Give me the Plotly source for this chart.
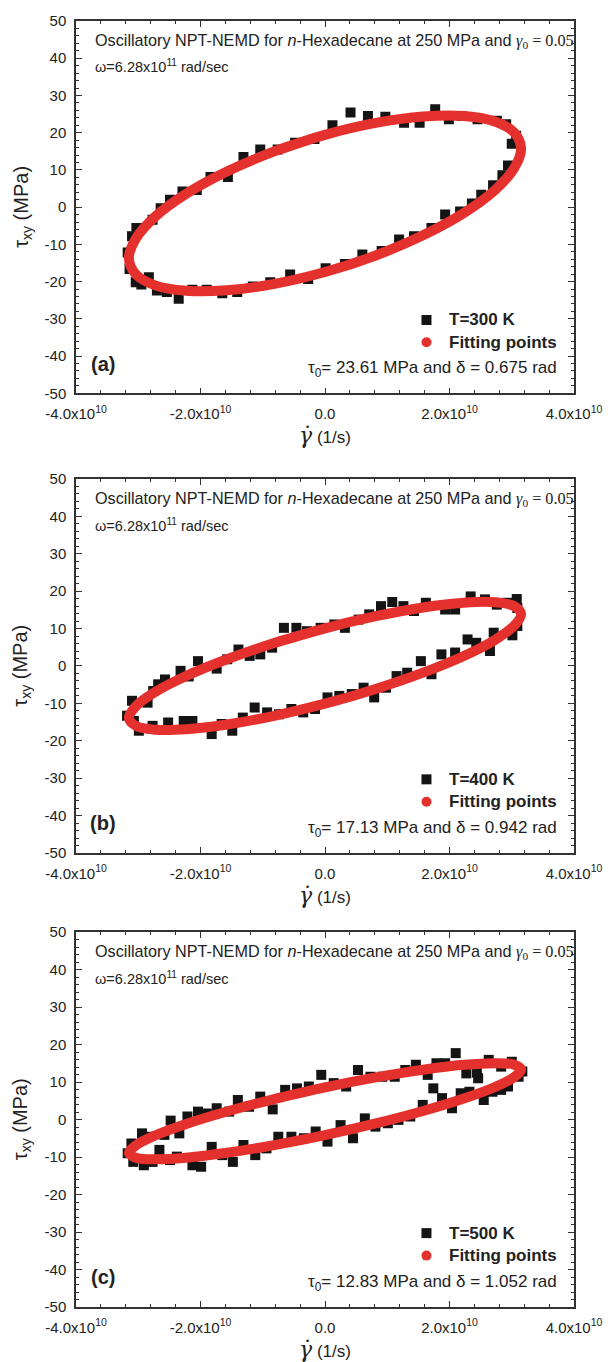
import numpy as np
import plotly.graph_objects as go

# ---------------- data (x in units of 1e10 1/s, y in MPa) ----------------
SCALE = 1e10

# T = 300 K simulation points
x_300 = [-3.03, -3.10, -3.17, -3.14, -3.04, -2.95, -2.83, -2.70, -2.54, -2.35, -2.13, -1.90, -1.65,
         -1.41, -1.16, -0.88, -0.56, -0.27, 0.01, 0.32, 0.60, 0.91, 1.19, 1.43, 1.71, 1.93, 2.17,
         2.36, 2.51, 2.70, 2.85, 2.94, 3.00, 3.07, 2.91, 2.76, 2.45, 2.20, 1.99, 1.77, 1.52, 1.27,
         0.97, 0.69, 0.41, 0.12, -0.17, -0.48, -0.76, -1.04, -1.31, -1.56, -1.84, -2.06, -2.29,
         -2.49, -2.64, -2.77, -2.95]
y_300 = [-5.6, -7.8, -12.2, -16.6, -20.2, -20.8, -18.8, -22.4, -22.8, -24.6, -22.2, -22.2, -23.1,
         -22.8, -21.3, -20.2, -18.1, -19.3, -16.4, -15.3, -12.7, -11.8, -8.7, -7.8, -5.6, -2.0, -1.2,
         1.0, 3.3, 5.9, 8.6, 11.2, 17.0, 19.2, 22.3, 23.2, 23.6, 24.5, 23.6, 26.3, 22.7, 22.7,
         24.3, 24.5, 25.4, 22.0, 18.3, 17.3, 15.5, 15.5, 13.5, 8.1, 8.1, 4.6, 4.2,
         2.0, -0.3, -3.4, -5.6]

# T = 400 K simulation points
x_400 = [-3.10, -2.85, -2.76, -2.68, -2.57, -2.32, -2.19, -2.04, -1.74, -1.57, -1.39, -1.21, -1.04,
         -0.85, -0.66, -0.46, -0.29, -0.07, 0.15, 0.32, 0.54, 0.71, 0.90, 1.08, 1.26, 1.43, 1.62,
         1.93, 2.09, 2.34, 2.57, 2.76, 2.93, 3.08, 3.09, 3.09, 3.01, 2.71, 2.65, 2.43, 2.29, 2.09,
         1.87, 1.71, 1.54, 1.32, 1.15, 0.98, 0.79, 0.62, 0.43, 0.23, 0.04, -0.16, -0.35, -0.54,
         -0.74, -0.93, -1.13, -1.32, -1.49, -1.66, -1.82, -2.13, -2.27, -2.52, -2.77, -2.99, -3.07,
         -3.18]
y_400 = [-9.3, -9.8, -6.7, -4.9, -3.6, -1.3, -2.8, 1.3, -0.7, 1.8, 4.4, 2.7, 3.1,
         4.9, 10.2, 10.2, 9.3, 10.2, 11.1, 10.2, 12.4, 13.8, 16.0, 17.1, 16.0, 14.7, 16.9,
         15.1, 15.1, 18.6, 17.8, 16.4, 16.9, 17.9, 15.5, 10.7, 8.2, 8.9, 4.0, 6.2, 7.1, 3.6,
         3.1, -2.2, 1.3, -1.8, -2.7, -5.8, -8.4, -5.8, -7.5, -8.0, -8.4, -11.5, -12.4, -11.5,
         -12.9, -12.4, -11.1, -13.8, -17.3, -15.5, -18.2, -14.7, -14.7, -15.1, -16.0, -17.3, -14.7,
         -13.3]

# T = 500 K simulation points
x_500 = [-3.17, -3.11, -2.94, -2.84, -2.58, -2.48, -2.34, -2.21, -2.04, -1.90, -1.74, -1.54, -1.40,
         -1.22, -1.04, -0.84, -0.64, -0.45, -0.26, -0.06, 0.14, 0.34, 0.53, 0.73, 0.92, 1.12, 1.29,
         1.46, 1.65, 1.79, 1.93, 2.10, 2.27, 2.44, 2.63, 2.83, 3.00, 3.11, 3.17, 2.94, 2.83, 2.69,
         2.55, 2.46, 2.32, 2.18, 2.04, 1.88, 1.74, 1.57, 1.37, 1.18, 1.01, 0.81, 0.64, 0.45, 0.25,
         0.04, -0.15, -0.34, -0.54, -0.75, -0.94, -1.12, -1.31, -1.48, -1.65, -1.82, -1.99, -2.13,
         -2.38, -2.49, -2.66, -2.77, -2.91, -3.08]
y_500 = [-9.0, -6.4, -3.7, -4.6, -4.1, -0.3, -3.7, 0.8, 2.1, 1.6, 3.0, 2.1, 5.2,
         3.4, 6.1, 2.7, 7.9, 8.3, 8.8, 11.9, 9.7, 8.8, 13.2, 11.4, 11.4, 11.4, 13.2,
         14.6, 11.9, 15.0, 15.0, 17.7, 12.3, 12.5, 15.9, 14.1, 15.4, 11.4, 12.8, 8.8, 7.9, 7.4,
         5.2, 11.0, 7.4, 7.0, 3.0, 5.7, 8.3, 3.9, 0.8, -0.1, -1.0, -1.9, 0.3, -5.0, -1.5,
         -5.9, -3.2, -5.0, -4.6, -4.6, -7.7, -9.5, -6.8, -11.3, -9.5, -7.3, -12.6, -12.2,
         -9.9, -10.8, -8.1, -11.3, -12.2, -11.3]

# fitted ellipse points (read along the red band)
fit_x = [0.0, -0.815, -1.575, -2.23, -2.73, -3.04, -3.15, -3.04, -2.73, -2.23, -1.575, -0.815, 0.0,
         0.815, 1.575, 2.23, 2.73, 3.04, 3.15, 3.04, 2.73, 2.23, 1.575, 0.815, 0.0, -0.815]
fit_y_300 = [19.43, 14.98, 9.58, 3.59, -2.57, -8.49, -13.76, -18.03, -21.0, -22.47, -22.34, -20.62,
             -17.43, -12.98, -7.58, -1.59, 4.57, 10.49, 15.76, 20.03, 23.0, 24.47, 24.34, 22.62,
             19.43, 14.98]
fit_y_400 = [10.07, 6.14, 1.79, -2.68, -6.97, -10.78, -13.86, -15.99, -17.04, -16.92, -15.65, -13.31,
             -10.07, -6.14, -1.79, 2.68, 6.97, 10.78, 13.86, 15.99, 17.04, 16.92, 15.65, 13.31,
             10.07, 6.14]
fit_y_500 = [8.56, 5.46, 2.13, -1.19, -4.27, -6.92, -8.94, -10.21, -10.63, -10.18, -8.88, -6.82,
             -4.16, -1.06, 2.27, 5.59, 8.67, 11.32, 13.34, 14.61, 15.03, 14.58, 13.28, 11.22,
             8.56, 5.46]

temps = ["T=300 K", "T=400 K", "T=500 K"]
letters = ["(a)", "(b)", "(c)"]
fit_texts = ["τ<sub>0</sub>= 23.61 MPa and δ = 0.675 rad",
             "τ<sub>0</sub>= 17.13 MPa and δ = 0.942 rad",
             "τ<sub>0</sub>= 12.83 MPa and δ = 1.052 rad"]

x_tickvals = [-4e10, -2e10, 0, 2e10, 4e10]
x_ticktext = ["-4.0x10<sup>10</sup>", "-2.0x10<sup>10</sup>", "0.0",
              "2.0x10<sup>10</sup>", "4.0x10<sup>10</sup>"]
y_tickvals = [-50, -40, -30, -20, -10, 0, 10, 20, 30, 40, 50]
y_ticktext = ["-50", "-40", "-30", "-20", "-10", "0", "10", "20", "30", "40", "50"]

# ---------------- figure ----------------
RED = "#e5312e"
BLACK = "#141414"
AX = "#333333"
FONT = "Liberation Sans, Arial, sans-serif"

data_sets = [(x_300, y_300, fit_y_300), (x_400, y_400, fit_y_400), (x_500, y_500, fit_y_500)]
domains = [[0.7105, 1.0], [0.3530, 0.6439], [0.0, 0.2916]]

fig = go.Figure()
annotations = []
shapes = []

for i, (xs, ys, fy) in enumerate(data_sets):
    xa = "x" if i == 0 else f"x{i+1}"
    ya = "y" if i == 0 else f"y{i+1}"
    fig.add_trace(go.Scatter(
        x=np.array(xs) * SCALE, y=ys, mode="markers", xaxis=xa, yaxis=ya,
        marker=dict(symbol="square", size=10, color=BLACK, line=dict(width=0)),
        showlegend=False, hoverinfo="skip"))
    fig.add_trace(go.Scatter(
        x=np.array(fit_x) * SCALE, y=fy, mode="lines", xaxis=xa, yaxis=ya,
        line=dict(color=RED, width=10, shape="spline", smoothing=1.0),
        showlegend=False, hoverinfo="skip"))

    axn = "" if i == 0 else str(i + 1)
    fig.update_layout(**{
        f"xaxis{axn}": dict(
            domain=[0, 1], anchor=ya, range=[-4e10, 4e10],
            tickmode="array", tickvals=x_tickvals, ticktext=x_ticktext,
            ticks="inside", ticklen=6, tickwidth=1.2, tickcolor=AX,
            showline=True, linecolor=AX, linewidth=1.5, mirror="allticks",
            showgrid=False, zeroline=False,
            minor=dict(ticks="inside", tickmode="linear", tick0=0, dtick=0.4e10,
                       ticklen=3.5, tickwidth=1, tickcolor=AX),
            tickfont=dict(family=FONT, size=15, color="#222"),
            ticklabelstandoff=6),
        f"yaxis{axn}": dict(
            domain=domains[i], anchor=xa, range=[-50, 50],
            tickmode="array", tickvals=y_tickvals, ticktext=y_ticktext,
            ticks="inside", ticklen=6, tickwidth=1.2, tickcolor=AX,
            showline=True, linecolor=AX, linewidth=1.5, mirror="allticks",
            showgrid=False, zeroline=False,
            minor=dict(ticks="inside", tickmode="linear", tick0=0, dtick=2,
                       ticklen=3.5, tickwidth=1, tickcolor=AX),
            tickfont=dict(family=FONT, size=15, color="#222"),
            ticklabelstandoff=5),
    })

    dom = f"{xa} domain"
    ydom = f"{ya} domain"
    # header texts
    annotations.append(dict(
        xref=xa, yref=ya, x=-3.73e10, y=44.6, xanchor="left", yanchor="middle", showarrow=False,
        text="Oscillatory NPT-NEMD for <i>n</i>-Hexadecane at 250 MPa and "
             "<span style=\"font-family:'Liberation Serif'\"><i>γ</i><sub>0</sub> = 0.05</span>",
        font=dict(family=FONT, size=16.2, color="#222")))
    annotations.append(dict(
        xref=xa, yref=ya, x=-3.73e10, y=37.8, xanchor="left", yanchor="middle", showarrow=False,
        text="ω=6.28x10<sup>11</sup> rad/sec",
        font=dict(family=FONT, size=14.5, color="#222")))
    # legend
    annotations.append(dict(
        xref=xa, yref=ya, x=1.96e10, y=-30.3, xanchor="left", yanchor="middle", showarrow=False,
        text=f"<b>{temps[i]}</b>", font=dict(family=FONT, size=17, color="#222")))
    annotations.append(dict(
        xref=xa, yref=ya, x=1.96e10, y=-36.3, xanchor="left", yanchor="middle", showarrow=False,
        text="<b>Fitting points</b>", font=dict(family=FONT, size=17, color="#222")))
    shapes.append(dict(type="rect", xref=xa, yref=ya, xsizemode="pixel", ysizemode="pixel",
                       xanchor=1.63e10, yanchor=-30.3, x0=-5, x1=5, y0=-5, y1=5,
                       fillcolor=BLACK, line=dict(width=0)))
    shapes.append(dict(type="circle", xref=xa, yref=ya, xsizemode="pixel", ysizemode="pixel",
                       xanchor=1.63e10, yanchor=-36.3, x0=-5, x1=5, y0=-5, y1=5,
                       fillcolor=RED, line=dict(width=0)))
    # panel letter and fit result
    annotations.append(dict(
        xref=xa, yref=ya, x=-3.56e10, y=-42, xanchor="center", yanchor="middle", showarrow=False,
        text=f"<b>{letters[i]}</b>", font=dict(family=FONT, size=20, color="#222")))
    annotations.append(dict(
        xref=xa, yref=ya, x=3.76e10, y=-43.5, xanchor="right", yanchor="middle", showarrow=False,
        text=fit_texts[i], font=dict(family=FONT, size=17, color="#222")))
    # axis titles
    annotations.append(dict(
        xref=dom, yref=ydom, x=0.5, y=0, yshift=-42, xanchor="center", yanchor="middle",
        showarrow=False,
        text="<span style=\"font-family:'DejaVu Serif'; font-size:22px\"><i>γ̇</i></span> (1/s)",
        font=dict(family=FONT, size=17, color="#222")))
    annotations.append(dict(
        xref="paper", yref=ydom, x=-0.109, y=0.5, xanchor="center", yanchor="middle",
        textangle=-90, showarrow=False,
        text="τ<sub>xy</sub> (MPa)", font=dict(family=FONT, size=20, color="#222")))

fig.update_layout(
    width=615, height=1362,
    margin=dict(l=76, r=33, t=21, b=55, pad=0),
    paper_bgcolor="white", plot_bgcolor="white",
    showlegend=False,
    annotations=annotations, shapes=shapes,
    font=dict(family=FONT, color="#222"),
)

fig.write_html("out.html")
